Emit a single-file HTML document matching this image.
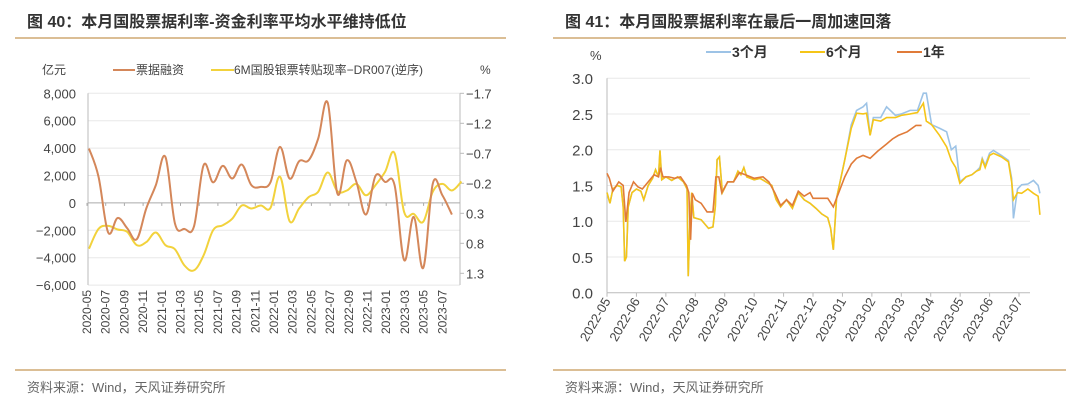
<!DOCTYPE html>
<html><head><meta charset="utf-8">
<style>
body{margin:0;background:#fff;width:1080px;height:409px;overflow:hidden;font-family:"Liberation Sans","Noto Sans CJK SC",sans-serif;}
svg{position:absolute;left:0;top:0}
</style></head>
<body>
<svg id="s" width="1080" height="409" xmlns="http://www.w3.org/2000/svg">
<g>
<text x="27" y="27" font-size="16" font-weight="bold" fill="#333">图 40：本月国股票据利率-资金利率平均水平维持低位</text>
<line x1="15" y1="38" x2="506" y2="38" stroke="#cfa972" stroke-width="1.5"/>
<line x1="15" y1="370" x2="506" y2="370" stroke="#cfa972" stroke-width="1.5"/>
<text x="27" y="392" font-size="13" fill="#666">资料来源：Wind，天风证券研究所</text>
</g>
<g>
<text x="565" y="27" font-size="16" font-weight="bold" fill="#333">图 41：本月国股票据利率在最后一周加速回落</text>
<line x1="553" y1="38" x2="1066" y2="38" stroke="#cfa972" stroke-width="1.5"/>
<line x1="553" y1="370" x2="1066" y2="370" stroke="#cfa972" stroke-width="1.5"/>
<text x="565" y="392" font-size="13" fill="#666">资料来源：Wind，天风证券研究所</text>
</g>
<g id="L"></g>
<g id="R"></g>
</svg>
<script>
// ---------- Left chart data ----------
const leftXLabels = ["2020-05","2020-07","2020-09","2020-11","2021-01","2021-03","2021-05","2021-07","2021-09","2021-11","2022-01","2022-03","2022-05","2022-07","2022-09","2022-11","2023-01","2023-03","2023-05","2023-07"];
const leftYTicks = [8000,6000,4000,2000,0,-2000,-4000,-6000];
const leftYTickLabels = ["8,000","6,000","4,000","2,000","0","−2,000","−4,000","−6,000"];
const rightYTicks = [-1.7,-1.2,-0.7,-0.2,0.3,0.8,1.3];
const rightYTickLabels = ["−1.7","−1.2","−0.7","−0.2","0.3","0.8","1.3"];
const billFinancing = [3970,1900,-2150,-1100,-1850,-2650,-400,1300,3360,-1500,-1900,-1700,2750,1500,2700,1780,2800,1300,1170,1500,4090,1780,3040,3110,4700,7300,700,3110,1530,-850,1970,1530,1290,-4180,-1020,-4740,1410,560,-850];
const rateSpread = [0.89,0.56,0.51,0.57,0.61,0.83,0.78,0.62,0.83,0.90,1.17,1.25,1.00,0.58,0.50,0.39,0.17,0.22,0.17,0.21,-0.31,0.43,0.22,0.03,-0.06,-0.38,-0.07,-0.08,-0.19,0.00,-0.17,-0.39,-0.70,0.28,0.31,0.44,-0.06,-0.19,-0.08,-0.23];

// ---------- Right chart data ----------
const rightXLabels = ["2022-05","2022-06","2022-07","2022-08","2022-09","2022-10","2022-11","2022-12","2023-01","2023-02","2023-03","2023-04","2023-05","2023-06","2023-07"];
const rYTicks = [0,0.5,1,1.5,2,2.5,3];
const rYTickLabels = ["0.0","0.5","1.0","1.5","2.0","2.5","3.0"];
// dates as months since 2022-05-01
const dates6M = [0,0.1,0.2,0.35,0.48,0.55,0.6,0.66,0.72,0.85,1.0,1.15,1.25,1.4,1.55,1.65,1.75,1.8,1.86,2.0,2.2,2.4,2.6,2.72,2.76,2.82,2.88,2.95,3.2,3.45,3.6,3.68,3.74,3.82,3.92,4.1,4.3,4.45,4.55,4.65,4.75,5.0,5.2,5.4,5.6,5.75,5.9,6.1,6.3,6.5,6.7,6.9,7.1,7.3,7.5,7.6,7.69,7.8,8.08,8.3,8.48,8.7,8.82,8.94,9.05,9.3,9.5,9.8,10.0,10.3,10.55,10.75,10.85,11.03,11.3,11.54,11.7,11.85,11.99,12.2,12.4,12.55,12.67,12.75,12.85,13.0,13.13,13.4,13.64,13.75,13.81,13.95,14.09,14.3,14.49,14.65,14.71];
const rate6M = [1.40,1.25,1.45,1.50,1.48,1.20,0.44,0.50,1.20,1.40,1.45,1.42,1.30,1.50,1.60,1.72,1.62,1.99,1.58,1.62,1.57,1.62,1.55,1.45,0.23,1.00,1.40,1.05,1.02,0.90,0.92,1.20,1.86,1.90,1.40,1.55,1.55,1.70,1.65,1.75,1.62,1.58,1.60,1.55,1.50,1.30,1.20,1.30,1.18,1.40,1.30,1.25,1.18,1.10,1.05,0.90,0.60,1.32,1.86,2.30,2.51,2.50,2.51,2.20,2.42,2.40,2.45,2.45,2.48,2.50,2.52,2.65,2.40,2.35,2.20,2.04,1.85,1.75,1.53,1.62,1.65,1.70,1.72,1.86,1.75,1.92,1.95,1.90,1.83,1.55,1.30,1.40,1.39,1.45,1.39,1.35,1.09];
const dates3M = dates6M;
const rate3M = [1.40,1.25,1.45,1.50,1.48,1.20,0.44,0.50,1.20,1.40,1.45,1.42,1.30,1.50,1.60,1.72,1.62,1.99,1.58,1.62,1.57,1.62,1.55,1.45,0.23,1.00,1.40,1.05,1.02,0.90,0.92,1.20,1.86,1.90,1.40,1.55,1.55,1.70,1.65,1.75,1.62,1.58,1.60,1.55,1.50,1.30,1.20,1.30,1.18,1.40,1.30,1.25,1.18,1.10,1.05,0.90,0.60,1.32,1.86,2.35,2.55,2.60,2.65,2.20,2.45,2.45,2.60,2.48,2.50,2.55,2.55,2.79,2.79,2.35,2.30,2.25,2.00,2.05,1.55,1.62,1.65,1.70,1.75,1.88,1.78,1.95,1.99,1.92,1.85,1.60,1.04,1.45,1.51,1.52,1.57,1.50,1.39];
const dates1Y = [0,0.08,0.2,0.4,0.55,0.64,0.75,0.9,1.05,1.2,1.4,1.6,1.75,1.82,1.9,2.1,2.3,2.5,2.7,2.78,2.84,2.9,3.0,3.2,3.4,3.6,3.7,3.8,3.9,4.1,4.3,4.5,4.7,5.0,5.3,5.5,5.7,5.9,6.1,6.3,6.5,6.7,6.9,7.0,7.3,7.5,7.69,7.8,8.08,8.3,8.48,8.7,8.94,9.2,9.5,9.7,9.9,10.2,10.5,10.69];
const rate1Y = [1.67,1.60,1.42,1.55,1.50,0.99,1.40,1.55,1.48,1.45,1.55,1.65,1.62,1.75,1.62,1.62,1.60,1.62,1.50,1.40,0.74,1.39,1.30,1.25,1.13,1.13,1.62,1.62,1.40,1.55,1.55,1.68,1.65,1.60,1.62,1.55,1.40,1.22,1.30,1.22,1.42,1.35,1.40,1.32,1.32,1.32,1.20,1.32,1.62,1.80,1.88,1.92,1.88,1.98,2.08,2.15,2.20,2.25,2.34,2.34];

const NS="http://www.w3.org/2000/svg";
function mk(parent,tag,attrs,text){const e=document.createElementNS(NS,tag);for(const k in attrs)e.setAttribute(k,attrs[k]);if(text!==undefined)e.textContent=text;parent.appendChild(e);return e;}
function smooth(pts){let d="M"+pts[0][0]+","+pts[0][1];for(let i=0;i<pts.length-1;i++){const p0=pts[i-1]||pts[i],p1=pts[i],p2=pts[i+1],p3=pts[i+2]||p2;const t=0.18;d+=" C"+(p1[0]+(p2[0]-p0[0])*t)+","+(p1[1]+(p2[1]-p0[1])*t)+" "+(p2[0]-(p3[0]-p1[0])*t)+","+(p2[1]-(p3[1]-p1[1])*t)+" "+p2[0]+","+p2[1];}return d;}

// ----- Left chart -----
const L=document.getElementById('L');
const lx0=88,lx1=460,ly0=93.3,lyPer=0.0137;
const yL=v=>ly0+(8000-v)*lyPer;
const yR=v=>93.3+(v+1.7)*60;
const xLab=k=>87+k*18.7;
const xSer=i=>89+i*9.55;
let e;
leftYTicks.forEach((v,i)=>{
 if(v!==0){e=mk(L,'line',{x1:lx0,x2:lx1,y1:yL(v),y2:yL(v),stroke:'#e8e8e8','stroke-width':1});
 
 }
 e=mk(L,'text',{x:76,y:yL(v)+5,'font-size':13,fill:'#444','text-anchor':'end'},leftYTickLabels[i]);
 
 
});
rightYTicks.forEach((v,i)=>{
 e=mk(L,'text',{x:466,y:yR(v)+5,'font-size':13,fill:'#444'},rightYTickLabels[i]);
 
 
 e=mk(L,'line',{x1:lx1,x2:lx1+4,y1:yR(v),y2:yR(v),stroke:'#bbb'});
 
 
});
e=mk(L,'line',{x1:lx0,x2:lx0,y1:ly0,y2:285,stroke:'#bbb'});


e=mk(L,'line',{x1:lx1,x2:lx1,y1:ly0,y2:285,stroke:'#bbb'});


e=mk(L,'line',{x1:lx0,x2:lx1,y1:yL(0),y2:yL(0),stroke:'#aaa'});


leftXLabels.forEach((t,k)=>{
 const x=xLab(k);
 e=mk(L,'line',{x1:x,x2:x,y1:yL(0),y2:yL(0)+3,stroke:'#aaa'});
 
 
 e=mk(L,'text',{x:0,y:0,'font-size':12,fill:'#444','text-anchor':'end',transform:`translate(${x+4},290) rotate(-90)`},t);
 
 
});
e=mk(L,'text',{x:42,y:74,'font-size':12,fill:'#444'},'亿元');


e=mk(L,'text',{x:480,y:74,'font-size':12,fill:'#444'},'%');


e=mk(L,'line',{x1:113,x2:135,y1:70,y2:70,stroke:'#d4875a','stroke-width':2});


e=mk(L,'text',{x:136,y:74,'font-size':12,fill:'#444'},'票据融资');


e=mk(L,'line',{x1:211,x2:234,y1:70,y2:70,stroke:'#f2d23c','stroke-width':2});


e=mk(L,'text',{x:234,y:74,'font-size':12,fill:'#444'},'6M国股银票转贴现率−DR007(逆序)');


e=mk(L,'path',{d:smooth(rateSpread.map((v,i)=>[xSer(i),yR(v)])),fill:'none',stroke:'#f2d23c','stroke-width':2});


e=mk(L,'path',{d:smooth(billFinancing.map((v,i)=>[xSer(i),yL(v)])),fill:'none',stroke:'#d4875a','stroke-width':2});



// ----- Right chart -----
const R=document.getElementById('R');
const rx0=607,rx1=1030;
const xm=m=>rx0+m*29.43;
const yv=v=>292.7-v*71.5;
rYTicks.forEach((v,i)=>{
 if(v!==0){e=mk(R,'line',{x1:rx0,x2:rx1,y1:yv(v),y2:yv(v),stroke:'#e8e8e8'});
 
 }
 e=mk(R,'text',{x:593,y:yv(v)+6,'font-size':15,fill:'#444','text-anchor':'end'},rYTickLabels[i]);
 
 
});
e=mk(R,'line',{x1:rx0,x2:rx0,y1:yv(3),y2:yv(0),stroke:'#bbb'});


e=mk(R,'line',{x1:rx0,x2:rx1,y1:yv(0),y2:yv(0),stroke:'#bbb'});


rightXLabels.forEach((t,k)=>{
 const x=xm(k);
 e=mk(R,'line',{x1:x,x2:x,y1:yv(0),y2:yv(0)+4,stroke:'#bbb'});
 
 
 e=mk(R,'text',{x:0,y:0,'font-size':13,fill:'#444','text-anchor':'end',transform:`translate(${x+4},301) rotate(-60)`},t);
 
 
});
e=mk(R,'text',{x:590,y:60,'font-size':13,fill:'#444'},'%');


const leg=[['3个月','#9dc3e6',706],['6个月','#f5c518',800],['1年','#e07b39',897]];
leg.forEach(l=>{
 e=mk(R,'line',{x1:l[2],x2:l[2]+25,y1:52,y2:52,stroke:l[1],'stroke-width':2});
 
 
 e=mk(R,'text',{x:l[2]+26,y:57,'font-size':14,fill:'#333','font-weight':'bold'},l[0]);
 
 
});
const line=(d,v)=>d.map((m,i)=>xm(m)+","+yv(v[i])).join(" ");
e=mk(R,'polyline',{points:line(dates3M,rate3M),fill:'none',stroke:'#9dc3e6','stroke-width':1.6});


e=mk(R,'polyline',{points:line(dates6M,rate6M),fill:'none',stroke:'#f5c518','stroke-width':1.6});


e=mk(R,'polyline',{points:line(dates1Y,rate1Y),fill:'none',stroke:'#e07b39','stroke-width':1.6});


</script>
</body></html>
